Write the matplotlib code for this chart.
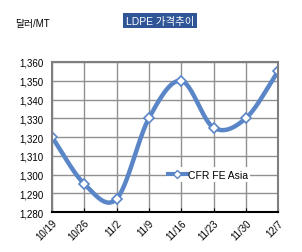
import numpy as np
from matplotlib import pyplot as plt

plt.rcParams['font.family'] = ['Liberation Sans', 'Noto Sans CJK KR', 'DejaVu Sans']

dates = ["10/19", "10/26", "11/2", "11/9", "11/16", "11/23", "11/30", "12/7"]
cfr_fe_asia = [1320, 1295, 1287, 1330, 1350, 1325, 1330, 1355]

# smooth curve like excel (catmull-rom through the points)
def smooth(y, n=30):
    p = np.array(y, dtype=float)
    p = np.concatenate([[2 * p[0] - p[1]], p, [2 * p[-1] - p[-2]]])
    xs, ys = [], []
    for i in range(1, len(p) - 2):
        t = np.linspace(0, 1, n)
        p0, p1, p2, p3 = p[i - 1], p[i], p[i + 1], p[i + 2]
        seg = 0.5 * ((2 * p1) + (-p0 + p2) * t + (2 * p0 - 5 * p1 + 4 * p2 - p3) * t**2
                     + (-p0 + 3 * p1 - 3 * p2 + p3) * t**3)
        xs.append(i - 1 + t)
        ys.append(seg)
    return np.concatenate(xs), np.concatenate(ys)

blue = "#5a86c8"
fig = plt.figure(figsize=(3.02, 2.53), dpi=100)
ax = fig.add_axes([0.172, 0.158, 0.749, 0.593])

sx, sy = smooth(cfr_fe_asia)
ax.plot(sx, sy, color=blue, lw=3.2, solid_capstyle="round")
ax.plot(range(len(dates)), cfr_fe_asia, ls="none", marker="D", ms=5,
        mfc="white", mec=blue, mew=1.2)
ax.plot([], [], color=blue, lw=3, marker="D", ms=4, mfc="white", mec=blue,
        label="CFR FE Asia")

ax.set_xlim(0, len(dates) - 1)
ax.set_ylim(1280, 1360)
ax.set_yticks(range(1280, 1361, 10))
ax.set_yticklabels([f"{v:,}" for v in range(1280, 1361, 10)], fontsize=7)
ax.set_xticks(range(len(dates)))
ax.set_xticklabels(dates, rotation=45, fontsize=7, ha="right", rotation_mode="anchor")
ax.grid(True, color="#909090", lw=1)
ax.set_axisbelow(True)
for s in ax.spines.values():
    s.set_color("#7f7f7f")
    s.set_linewidth(1.5)
ax.spines["bottom"].set_color("black")
ax.tick_params(axis="y", length=0, pad=6)
ax.tick_params(axis="x", length=3, direction="in", color="black", pad=4)

leg = ax.legend(loc="center", bbox_to_anchor=(0.69, 0.25), frameon=True, fontsize=7.5,
                handlelength=1.8, handletextpad=0.1, borderpad=0.2)
leg.get_frame().set_edgecolor("none")
leg.get_frame().set_alpha(1)

fig.text(0.53, 0.915, "LDPE 가격추이", color="white", fontsize=7.5, ha="center",
         va="center", bbox=dict(boxstyle="square,pad=0.25", fc="#2f5597", ec="none"))
fig.text(0.05, 0.905, "달러/MT", fontsize=7, va="center")

plt.savefig("out.png", dpi=100)
